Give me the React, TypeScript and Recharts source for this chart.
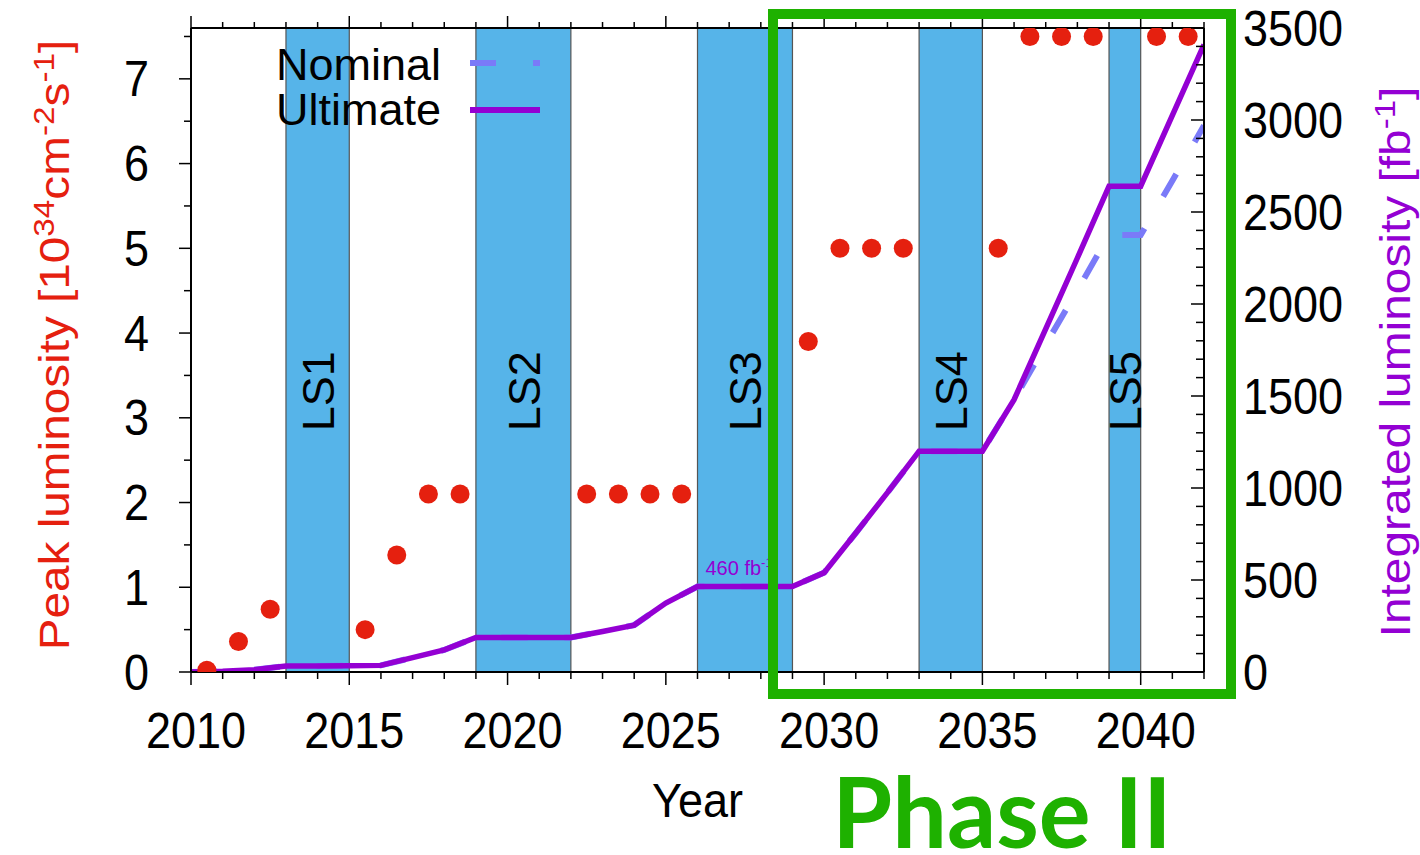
import {
  ComposedChart,
  Line,
  Scatter,
  XAxis,
  YAxis,
  ReferenceArea,
  ReferenceDot,
  Legend,
} from 'recharts';

// integrated luminosity [fb^-1], one value per year
const years = [
  2010, 2011, 2012, 2013, 2014, 2015, 2016, 2017, 2018, 2019, 2020, 2021, 2022, 2023, 2024, 2025, 2026,
  2027, 2028, 2029, 2030, 2031, 2032, 2033, 2034, 2035, 2036, 2037, 2038, 2039, 2040, 2041, 2042,
];
const ultimate = [
  0, 4, 12, 32, 33, 34, 36, 78, 120, 188, 188, 188, 188, 220, 255, 375, 464,
  464, 464, 464, 540, 755, 975, 1200, 1200, 1200, 1480, 1865, 2250, 2640, 2640, 3025, 3410,
];
const nominal = [
  0, 4, 12, 32, 33, 34, 36, 78, 120, 188, 188, 188, 188, 220, 255, 375, 464,
  464, 464, 464, 540, 755, 975, 1200, 1200, 1200, 1480, 1780, 2075, 2375, 2375, 2670, 2970,
];

// peak luminosity [10^34 cm^-2 s^-1]
const peakYears = [
  2010.5, 2011.5, 2012.5, 2015.5, 2016.5, 2017.5, 2018.5, 2022.5, 2023.5, 2024.5, 2025.5,
  2029.5, 2030.5, 2031.5, 2032.5, 2035.5, 2036.5, 2037.5, 2038.5, 2040.5, 2041.5,
];
const peakValues = [
  0.02, 0.36, 0.74, 0.5, 1.38, 2.1, 2.1, 2.1, 2.1, 2.1, 2.1,
  3.9, 5, 5, 5, 5, 7.5, 7.5, 7.5, 7.5, 7.5,
];

// long shutdowns
const shutdownNames = ['LS1', 'LS2', 'LS3', 'LS4', 'LS5'];
const shutdownStart = [2013, 2019, 2026, 2033, 2039];
const shutdownEnd = [2015, 2022, 2029, 2035, 2040];

// ticks
const yearTicks = [
  2010, 2011, 2012, 2013, 2014, 2015, 2016, 2017, 2018, 2019, 2020, 2021, 2022, 2023, 2024, 2025, 2026,
  2027, 2028, 2029, 2030, 2031, 2032, 2033, 2034, 2035, 2036, 2037, 2038, 2039, 2040, 2041, 2042,
];
const peakTicks = [0, 0.5, 1, 1.5, 2, 2.5, 3, 3.5, 4, 4.5, 5, 5.5, 6, 6.5, 7, 7.5];
const intTicks = [
  0, 100, 200, 300, 400, 500, 600, 700, 800, 900, 1000, 1100, 1200, 1300, 1400, 1500, 1600, 1700, 1800,
  1900, 2000, 2100, 2200, 2300, 2400, 2500, 2600, 2700, 2800, 2900, 3000, 3100, 3200, 3300, 3400, 3500,
];

const ls3Year = 2026;
const ls3Value = 464;
const ls3Text = '460 fb';

const RED = '#e5200f';
const PURPLE = '#9400d3';
const NOMINAL = '#7a7af8';
const BAND = '#56b4e9';
const GREEN = '#1eb100';
const FONT = "'Liberation Sans', Arial, sans-serif";

const ultimateData = years.map((year, i) => ({ year, v: ultimate[i] }));
const nominalData = years.map((year, i) => ({ year, v: nominal[i] }));
const peakData = peakYears.map((year, i) => ({ year, v: peakValues[i] }));

const BottomTick = ({ x, y, payload }: any) => {
  const v = payload.value;
  const major = v % 5 === 0;
  return (
    <g>
      <line x1={x} x2={x} y1={y} y2={y + (major ? 13 : 7)} stroke="#000" strokeWidth={1.5} />
      {major && (
        <text transform={`translate(${x + 5},${y}) scale(1,1.1)`} y={69} textAnchor="middle" fontSize={45} fill="#000">
          {v}
        </text>
      )}
    </g>
  );
};

const TopTick = ({ x, y, payload }: any) => {
  const major = payload.value % 5 === 0;
  return <line x1={x} x2={x} y1={y} y2={y - (major ? 12 : 6)} stroke="#000" strokeWidth={1.5} />;
};

const LeftTick = ({ x, y, payload }: any) => {
  const v = payload.value;
  const major = Number.isInteger(v);
  return (
    <g>
      <line x1={x - (major ? 12 : 7)} x2={x} y1={y} y2={y} stroke="#000" strokeWidth={1.5} />
      {major && (
        <text transform={`translate(${x - 42},${y}) scale(1,1.1)`} y={16} textAnchor="end" fontSize={45} fill="#000">
          {v}
        </text>
      )}
    </g>
  );
};

const RightTick = ({ x, y, payload }: any) => {
  const v = payload.value;
  const major = v % 500 === 0;
  return (
    <g>
      <line x1={x - (major ? 13 : 8)} x2={x} y1={y} y2={y} stroke="#000" strokeWidth={1.5} />
      {major && (
        <text transform={`translate(${x + 39},${y}) scale(1,1.1)`} y={16} textAnchor="start" fontSize={45} fill="#000">
          {v}
        </text>
      )}
    </g>
  );
};

const ShutdownLabel = ({ viewBox, text }: any) => {
  if (!viewBox) return null;
  const cx = viewBox.x + viewBox.width / 2 + 16.5;
  const cy = viewBox.y + viewBox.height * 0.564;
  return (
    <text transform={`translate(${cx},${cy}) rotate(-90)`} textAnchor="middle" fontSize={45} fill="#000">
      {text}
    </text>
  );
};

const DoseLabel = ({ viewBox }: any) => {
  if (!viewBox) return null;
  return (
    <text x={viewBox.x + 8} y={viewBox.y - 11.5} fontSize={20} fill={PURPLE}>
      {ls3Text}
      <tspan dy={-8} fontSize={13}>-1</tspan>
    </text>
  );
};

const LeftTitle = ({ viewBox }: any) => {
  if (!viewBox) return null;
  const x = viewBox.x + 69;
  const y = viewBox.y + viewBox.height / 2 - 5;
  return (
    <text transform={`translate(${x},${y}) rotate(-90) scale(1.11,1)`} textAnchor="middle" fontSize={43} fill={RED}>
      Peak luminosity [10
      <tspan dy={-15} fontSize={30}>34</tspan>
      <tspan dy={15}>cm</tspan>
      <tspan dy={-15} fontSize={30}>-2</tspan>
      <tspan dy={15}>s</tspan>
      <tspan dy={-15} fontSize={30}>-1</tspan>
      <tspan dy={15}>]</tspan>
    </text>
  );
};

const RightTitle = ({ viewBox }: any) => {
  if (!viewBox) return null;
  const x = viewBox.x + 206;
  const y = viewBox.y + viewBox.height / 2 + 12;
  return (
    <text transform={`translate(${x},${y}) rotate(-90) scale(1.14,1)`} textAnchor="middle" fontSize={42} fill={PURPLE}>
      Integrated luminosity [fb
      <tspan dy={-15} fontSize={29}>-1</tspan>
      <tspan dy={15}>]</tspan>
    </text>
  );
};

const YearTitle = ({ viewBox }: any) => {
  if (!viewBox) return null;
  return (
    <text
      transform={`translate(${viewBox.x + viewBox.width / 2},${viewBox.y}) scale(1,1.05)`}
      y={138}
      textAnchor="middle"
      fontSize={45}
      fill="#000"
    >
      Year
    </text>
  );
};

const renderLegend = () => (
  <svg width={300} height={110} style={{ overflow: 'visible', fontFamily: FONT }}>
    <text x={181} y={50} textAnchor="end" fontSize={45} fill="#000">Nominal</text>
    <line x1={210} x2={280} y1={33} y2={33} stroke={NOMINAL} strokeWidth={6} strokeDasharray="26 37" />
    <text x={181} y={95} textAnchor="end" fontSize={45} fill="#000">Ultimate</text>
    <line x1={210} x2={280} y1={80} y2={80} stroke={PURPLE} strokeWidth={6} />
  </svg>
);

const App = () => {
  return (
    <div style={{ position: 'absolute', left: 0, top: 0, width: 1420, height: 855, background: '#fff', fontFamily: FONT }}>
      <ComposedChart
        width={1420}
        height={855}
        margin={{ top: 8, right: 0, bottom: 83, left: 0 }}
        style={{ fontFamily: FONT }}
      >
        <XAxis
          xAxisId="bottom"
          dataKey="year"
          type="number"
          domain={[2010, 2042]}
          ticks={yearTicks}
          interval={0}
          height={100}
          tickSize={0}
          tickMargin={0}
          tickLine={false}
          tick={<BottomTick />}
          axisLine={{ stroke: '#000', strokeWidth: 2 }}
          allowDataOverflow
          label={<YearTitle />}
        />
        <XAxis
          xAxisId="top"
          orientation="top"
          dataKey="year"
          type="number"
          domain={[2010, 2042]}
          ticks={yearTicks}
          interval={0}
          height={20}
          tickSize={0}
          tickMargin={0}
          tickLine={false}
          tick={<TopTick />}
          axisLine={{ stroke: '#000', strokeWidth: 2 }}
          allowDataOverflow
        />
        <YAxis
          yAxisId="left"
          dataKey="v"
          type="number"
          domain={[0, 7.6]}
          ticks={peakTicks}
          interval={0}
          width={191}
          tickSize={0}
          tickMargin={0}
          tickLine={false}
          tick={<LeftTick />}
          axisLine={{ stroke: '#000', strokeWidth: 2 }}
          allowDataOverflow
          label={<LeftTitle />}
        />
        <YAxis
          yAxisId="right"
          orientation="right"
          type="number"
          domain={[0, 3500]}
          ticks={intTicks}
          interval={0}
          width={216}
          tickSize={0}
          tickMargin={0}
          tickLine={false}
          tick={<RightTick />}
          axisLine={{ stroke: '#000', strokeWidth: 2 }}
          allowDataOverflow
          label={<RightTitle />}
        />

        {shutdownNames.map((name, i) => (
          <ReferenceArea
            key={name}
            xAxisId="bottom"
            yAxisId="left"
            x1={shutdownStart[i]}
            x2={shutdownEnd[i]}
            fill={BAND}
            fillOpacity={1}
            stroke="#555"
            strokeWidth={1.2}
            label={<ShutdownLabel text={name} />}
          />
        ))}

        <Line
          xAxisId="bottom"
          yAxisId="right"
          data={nominalData}
          dataKey="v"
          name="Nominal"
          type="linear"
          stroke={NOMINAL}
          strokeWidth={6}
          strokeDasharray="26 37"
          dot={false}
          activeDot={false}
          isAnimationActive={false}
        />
        <Line
          xAxisId="bottom"
          yAxisId="right"
          data={ultimateData}
          dataKey="v"
          name="Ultimate"
          type="linear"
          stroke={PURPLE}
          strokeWidth={5.5}
          dot={false}
          activeDot={false}
          isAnimationActive={false}
        />
        <Scatter
          xAxisId="top"
          yAxisId="left"
          data={peakData}
          dataKey="v"
          name="Peak"
          fill={RED}
          shape={(p: any) => <circle cx={p.cx} cy={p.cy} r={9.5} fill={RED} />}
          isAnimationActive={false}
        />
        <ReferenceDot
          xAxisId="bottom"
          yAxisId="right"
          x={ls3Year}
          y={ls3Value}
          r={0}
          fill="none"
          stroke="none"
          label={<DoseLabel />}
        />
        <Legend
          layout="horizontal"
          verticalAlign="middle"
          align="center"
          content={renderLegend}
          wrapperStyle={{ position: 'absolute', left: 260, top: 30, width: 300, height: 110 }}
        />
      </ComposedChart>
      <svg
        width={1420}
        height={855}
        style={{ position: 'absolute', left: 0, top: 0, pointerEvents: 'none' }}
      >
        <rect x={773} y={14} width={458} height={680} fill="none" stroke={GREEN} strokeWidth={10} />
        <text
          x={1002}
          y={848}
          textAnchor="middle"
          fontFamily="Lato, 'Open Sans', sans-serif"
          fontWeight={700}
          fontSize={97}
          fill={GREEN}
        >
          Phase II
        </text>
      </svg>
    </div>
  );
};

export default App;
